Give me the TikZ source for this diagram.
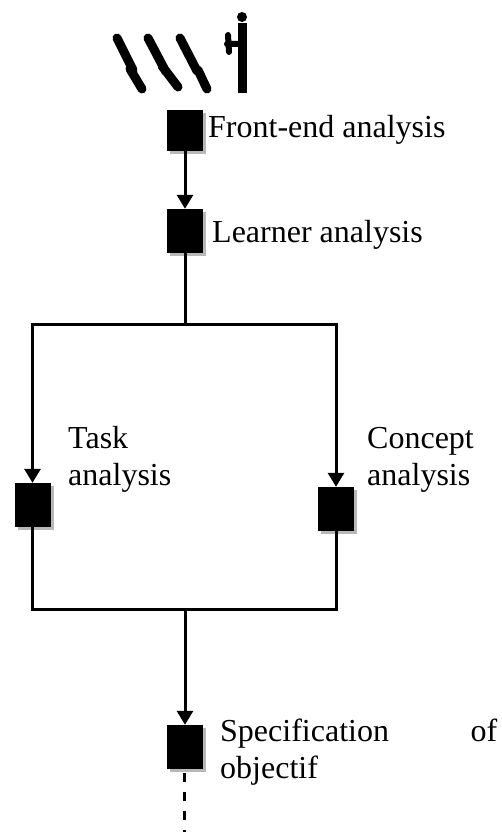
\documentclass[tikz,border=0pt]{standalone}
\usepackage{fontspec}
\setmainfont{Liberation Serif}
\usepackage{tikz}
\usetikzlibrary{arrows.meta,positioning,shadows}

\begin{document}
\begin{tikzpicture}[
  x=1pt, y=-1pt,
  blk/.style={
    rectangle,
    fill=black,
    inner sep=0pt,
    minimum width=36pt,
    minimum height=44pt,
    drop shadow={shadow xshift=3pt, shadow yshift=-3pt, fill=black!28, opacity=1}
  },
  lbl/.style={
    anchor=base west,
    inner sep=0pt,
    align=left,
    font=\fontsize{32}{37}\selectfont
  },
  wire/.style={line width=3pt},
  link/.style={wire, -{Triangle[width=16pt,length=14pt]}},
  fig/.style={line width=9pt, line cap=round}
]
\useasboundingbox (0,0) rectangle (502,832);

% people at the top
\draw[fig] (117,38) -- (133,70) (130,69) -- (142,89);
\draw[fig] (148,38) -- (166,72) (162,66) -- (178,87);
\draw[fig] (180,38) -- (197,71) (198,70) -- (207,89);
\fill (242,17) circle (5);
\draw[line width=9pt] (242,23) -- (242,93);
\draw[line width=6pt, line cap=round] (228,35) -- (229,52) (227,44) -- (240,44);

% steps
\node[blk, minimum height=41pt] (fe) at (185,130.5) {};
\node[blk] (ln) at (185,231) {};
\node[blk] (tk) at (32.5,505) {};
\node[blk] (cp) at (336,509) {};
\node[blk] (sp) at (185,747) {};

\node[lbl] (fetxt) at (208,137) {Front-end analysis};
\node[lbl] (lntxt) at (212,242) {Learner analysis};
\node[lbl] (tktxt) at (68,485) {Task\\analysis};
\node[lbl] (cptxt) at (367,485) {Concept\\analysis};
\node[lbl, text width=277pt] (sptxt) at (220,741) {Specification\hfill of\\objectif};

\coordinate (split) at (185,324);
\coordinate (join) at (185,609);
\coordinate (tail) at (184,832);

\draw[link] (fe) -- (ln);
\draw[wire] (ln) -- (split);
\draw[link] (split) -| (tk);
\draw[link] (split) -| (cp);
\draw[wire] (tk) |- (join);
\draw[wire] (cp) |- (join);
\draw[link] (join) -- (sp);
\draw[wire, dash pattern=on 9pt off 10pt] (sp.south) ++(-1,4) -- (tail);

\end{tikzpicture}
\end{document}
